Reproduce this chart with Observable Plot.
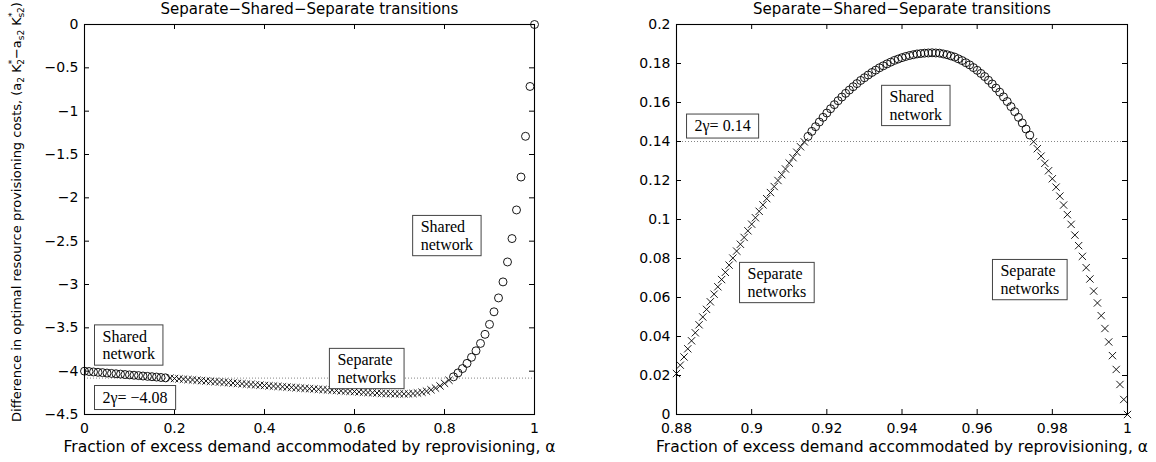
<!DOCTYPE html>
<html><head><meta charset="utf-8">
<script src="https://cdn.jsdelivr.net/npm/d3@7"></script>
<script src="https://cdn.jsdelivr.net/npm/@observablehq/plot@0.6"></script>
<style>
body{margin:0;background:#fff;}
#wrap{position:relative;width:1156px;height:462px;overflow:hidden;background:#fff;}
#wrap svg{position:absolute;top:0;}
</style></head><body><div id="wrap"></div>
<script>
const title = "Separate\u2212Shared\u2212Separate transitions";
const xLabel = "Fraction of excess demand accommodated by reprovisioning, \u03b1";

// ---- Left panel data: alpha = 0 .. 1, step 0.01
const leftAlphaStart = 0, leftAlphaStep = 0.01;
const leftValues = [
 -4.000,-4.004,-4.009,-4.013,-4.017,-4.022,-4.026,-4.030,-4.034,-4.039,
 -4.043,-4.047,-4.051,-4.056,-4.060,-4.064,-4.068,-4.073,-4.077,-4.081,
 -4.085,-4.089,-4.093,-4.097,-4.101,-4.105,-4.109,-4.113,-4.117,-4.121,
 -4.125,-4.129,-4.133,-4.137,-4.141,-4.145,-4.149,-4.153,-4.157,-4.161,
 -4.165,-4.169,-4.172,-4.176,-4.180,-4.184,-4.187,-4.191,-4.195,-4.198,
 -4.202,-4.205,-4.209,-4.212,-4.216,-4.219,-4.222,-4.226,-4.229,-4.232,
 -4.235,-4.239,-4.243,-4.246,-4.249,-4.252,-4.255,-4.257,-4.259,-4.261,
 -4.262,-4.262,-4.261,-4.258,-4.252,-4.243,-4.231,-4.215,-4.195,-4.170,
 -4.140,-4.105,-4.065,-4.020,-3.970,-3.910,-3.840,-3.765,-3.680,-3.575,
 -3.460,-3.315,-3.155,-2.970,-2.740,-2.470,-2.140,-1.760,-1.290,-0.715,
  0.000];
const leftGamma = -4.08;
const leftXTicks = [0, 0.2, 0.4, 0.6, 0.8, 1];
const leftYTicks = [0, -0.5, -1, -1.5, -2, -2.5, -3, -3.5, -4, -4.5];
const leftNotes = [
  {x: 0.747, y: -2.435, label: "Shared\nnetwork"},
  {x: 0.040, y: -3.698, label: "Shared\nnetwork"},
  {x: 0.040, y: -4.298, label: "2\u03b3= \u22124.08"},
  {x: 0.562, y: -3.969, label: "Separate\nnetworks"}
];

// ---- Right panel data: alpha = 0.88 .. 1, step 0.001
const rightAlphaStart = 0.88, rightAlphaStep = 0.001;
const rightValues = [
 0.0210,0.0253,0.0295,0.0337,0.0378,0.0419,0.0460,0.0500,0.0539,0.0578,
 0.0617,0.0655,0.0692,0.0729,0.0766,0.0802,0.0838,0.0873,0.0908,0.0942,
 0.0976,0.1009,0.1042,0.1075,0.1107,0.1138,0.1169,0.1200,0.1230,0.1259,
 0.1289,0.1317,0.1345,0.1373,0.1398,
 0.1426,0.1452,0.1476,0.1500,0.1524,0.1546,0.1568,0.1589,0.1609,0.1628,
 0.1647,0.1664,0.1681,0.1697,0.1713,0.1727,0.1741,0.1754,0.1766,0.1778,
 0.1788,0.1798,0.1807,0.1816,0.1823,0.1830,0.1836,0.1841,0.1845,0.1849,
 0.1851,0.1853,0.1854,
 0.1855,
 0.1854,0.1853,0.1849,0.1845,0.1839,0.1833,0.1824,0.1815,0.1804,0.1793,
 0.1779,0.1765,0.1749,0.1733,0.1714,0.1695,0.1674,0.1653,0.1629,0.1605,
 0.1579,0.1553,0.1524,0.1495,0.1464,0.1433,
 0.1399,0.1363,0.1325,0.1288,0.1250,0.1209,0.1166,0.1120,0.1074,0.1025,
 0.0975,0.0920,0.0866,0.0811,0.0753,0.0695,0.0633,0.0572,0.0507,0.0441,
 0.0372,0.0302,0.0231,0.0154,0.0077,0.0000];
const rightGamma = 0.14;
const rightXTicks = [0.88, 0.9, 0.92, 0.94, 0.96, 0.98, 1];
const rightYTicks = [0, 0.02, 0.04, 0.06, 0.08, 0.1, 0.12, 0.14, 0.16, 0.18, 0.2];
const rightNotes = [
  {x: 0.8848, y: 0.1482, label: "2\u03b3= 0.14"},
  {x: 0.9367, y: 0.1585, label: "Shared\nnetwork"},
  {x: 0.8989, y: 0.0677, label: "Separate\nnetworks"},
  {x: 0.9662, y: 0.0692, label: "Separate\nnetworks"}
];

const fmt = d => String(d).replace("-", "\u2212");

function panel(cfg) {
  const data = cfg.values.map((v, i) => ({a: cfg.alphaStart + i * cfg.alphaStep, v}));
  const shared = data.filter(d => d.v > cfg.gamma);
  const separate = data.filter(d => d.v <= cfg.gamma);
  const timesSym = d3.symbolTimes || "times";
  const fw = cfg.width - cfg.marginLeft - cfg.marginRight;  // frame width in px
  const fh = 462 - 24 - 48;                                 // frame height in px
  const tl = 5;                                             // tick length
  const svg = Plot.plot({
    width: cfg.width, height: 462,
    marginLeft: cfg.marginLeft, marginRight: cfg.marginRight, marginTop: 24, marginBottom: 48,
    style: {fontFamily: "DejaVu Sans", fontSize: "14px", color: "black", background: "transparent", overflow: "visible"},
    x: {domain: cfg.xDomain},
    y: {domain: cfg.yDomain},
    marks: [
      Plot.ruleY([cfg.gamma], {stroke: "#666", strokeDasharray: "1,2", strokeWidth: 0.8}),
      Plot.dot(separate, {x: "a", y: "v", symbol: timesSym, r: 3.4, stroke: "black", strokeWidth: 0.9}),
      Plot.dot(shared, {x: "a", y: "v", symbol: "circle", r: 4, stroke: "black", fill: "none", strokeWidth: 0.9}),
      Plot.frame({stroke: "black", strokeWidth: 1.1}),
      // inward ticks on all four sides
      Plot.tickX(cfg.xTicks, {x: d => d, insetTop: fh - tl, stroke: "black"}),
      Plot.tickX(cfg.xTicks, {x: d => d, insetBottom: fh - tl, stroke: "black"}),
      Plot.tickY(cfg.yTicks, {y: d => d, insetRight: fw - tl, stroke: "black"}),
      Plot.tickY(cfg.yTicks, {y: d => d, insetLeft: fw - tl, stroke: "black"}),
      Plot.axisX(cfg.xTicks, {anchor: "bottom", tickSize: 0, tickPadding: 9, label: null, fontSize: 14, tickFormat: fmt}),
      Plot.axisY(cfg.yTicks, {anchor: "left", tickSize: 0, tickPadding: 6, label: null, fontSize: 14, tickFormat: fmt}),
      Plot.text([title], {text: d => d, frameAnchor: "top", dy: -15, fontSize: 15, lineAnchor: "middle"}),
      Plot.text([xLabel], {text: d => d, frameAnchor: "bottom", dy: 33, fontSize: 15.5, lineAnchor: "middle"}),
      Plot.text(cfg.notes, {x: "x", y: "y", text: "label", textAnchor: "start", lineAnchor: "middle",
        lineHeight: 1.08, fontFamily: "Liberation Serif", fontSize: 16})
    ]
  });
  svg.style.left = cfg.left + "px";
  document.getElementById("wrap").appendChild(svg);
  // boxes around annotation texts
  const ns = "http://www.w3.org/2000/svg";
  svg.querySelectorAll('g[font-family="Liberation Serif"] text').forEach(t => {
    const b = t.getBBox();
    const r = document.createElementNS(ns, "rect");
    r.setAttribute("x", b.x - 8);
    r.setAttribute("y", b.y - 3);
    r.setAttribute("width", b.width + 16);
    r.setAttribute("height", b.height + 6);
    r.setAttribute("fill", "white");
    r.setAttribute("stroke", "#444");
    r.setAttribute("stroke-width", "1");
    if (t.getAttribute("transform")) r.setAttribute("transform", t.getAttribute("transform"));
    t.parentNode.insertBefore(r, t);
  });
  return svg;
}

const leftSvg = panel({
  values: leftValues, alphaStart: leftAlphaStart, alphaStep: leftAlphaStep, gamma: leftGamma,
  xDomain: [0, 1], yDomain: [-4.5, 0], xTicks: leftXTicks, yTicks: leftYTicks, notes: leftNotes,
  width: 560, marginLeft: 84, marginRight: 26, left: 0
});
panel({
  values: rightValues, alphaStart: rightAlphaStart, alphaStep: rightAlphaStep, gamma: rightGamma,
  xDomain: [0.88, 1], yDomain: [0, 0.2], xTicks: rightXTicks, yTicks: rightYTicks, notes: rightNotes,
  width: 576, marginLeft: 96, marginRight: 29, left: 580
});

// y-axis label with sub/superscripts (left panel)
const yLabelParts = [
  {t: "Difference in optimal resource provisioning costs, (a", k: "n"},
  {t: "2", k: "sub"}, {t: " K", k: "n"}, {t: "*", k: "sup"}, {t: "2", k: "subback"},
  {t: "\u2212a", k: "n"}, {t: "s2", k: "sub"}, {t: " K", k: "n"}, {t: "*", k: "sup"}, {t: "s2", k: "subback"},
  {t: ")", k: "n"}
];
const yl = d3.select(leftSvg).append("text")
  .attr("transform", "translate(21,212) rotate(-90)")
  .attr("text-anchor", "middle")
  .attr("font-family", "DejaVu Sans")
  .attr("font-size", 13)
  .attr("fill", "black");
let level = 0;
yLabelParts.forEach(p => {
  const s = yl.append("tspan").text(p.t);
  let target = 0;
  if (p.k === "sub" || p.k === "subback") target = 3;
  if (p.k === "sup") target = -6;
  if (p.k !== "n") s.attr("font-size", 9);
  if (p.k === "subback") s.attr("dx", -5);
  s.attr("dy", target - level);
  level = target;
});
</script>
</body></html>
